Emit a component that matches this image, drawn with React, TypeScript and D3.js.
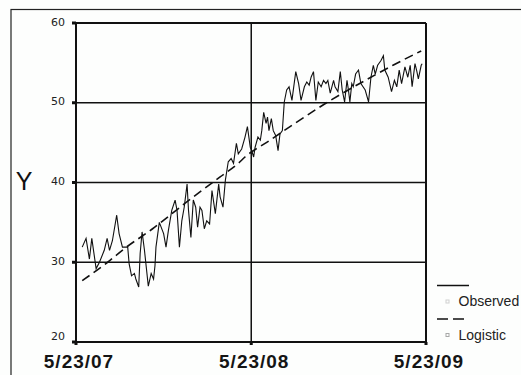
import * as d3 from "d3";

const width = 521;
const height = 375;
const margin = { top: 23, right: 95, bottom: 33, left: 76 };

// days after 5/23/07 for each observed point
const obsDays = [
  13, 21, 28, 33, 42, 49, 59, 65, 70, 76, 85, 90, 97, 108, 111, 116, 122, 125,
  131, 134, 138, 143, 151, 157, 162, 165, 167, 174, 183, 188, 193, 200, 207,
  211, 216, 221, 226, 232, 235, 240, 245, 250, 254, 259, 263, 268, 273, 279,
  284, 291, 298, 301, 307, 312, 318, 324, 329, 335, 339, 346, 353, 358, 364,
  367, 371, 374, 380, 385, 388, 392, 397, 400, 403, 408, 412, 417, 422, 426,
  431, 435, 440, 445, 451, 459, 465, 470, 477, 482, 487, 491, 496, 501, 506,
  512, 517, 522, 526, 531, 538, 541, 547, 552, 556, 561, 566, 569, 572, 576,
  579, 584, 590, 595, 604, 611, 616, 621, 625, 630, 637, 642, 645, 652, 659,
  665, 670, 675, 680, 687, 693, 698, 702, 708, 712, 715, 721, 723,
];

const obsValues = [
  31.9, 33.0, 30.4, 33.0, 29.2, 30.0, 31.5, 33.0, 31.5, 32.7, 35.9, 33.6, 31.9,
  31.9, 29.8, 28.3, 28.6, 27.9, 26.9, 31.1, 33.8, 31.5, 27.0, 28.6, 27.9, 29.6,
  31.9, 35.0, 33.6, 31.9, 34.0, 36.5, 37.8, 36.5, 31.9, 35.2, 36.9, 39.8, 36.5,
  33.1, 37.8, 36.9, 34.4, 36.9, 36.5, 34.2, 35.2, 34.8, 39.0, 36.1, 39.8, 38.2,
  36.9, 40.3, 42.6, 43.0, 42.4, 44.9, 43.6, 44.2, 45.7, 47.0, 44.4, 44.0, 43.2,
  44.4, 45.7, 45.3, 46.5, 48.8, 47.4, 48.2, 46.5, 48.0, 46.5, 45.9, 44.0, 46.1,
  46.5, 50.1, 51.6, 52.0, 50.3, 53.9, 52.4, 50.3, 52.0, 52.6, 52.2, 53.2, 53.9,
  50.3, 52.6, 52.0, 52.8, 52.4, 52.8, 51.2, 52.8, 52.0, 51.4, 53.9, 51.6, 50.1,
  52.8, 51.6, 50.1, 52.4, 52.0, 53.6, 54.1, 52.4, 51.6, 50.1, 53.2, 54.7, 53.6,
  54.7, 55.3, 55.9, 54.1, 53.2, 51.4, 52.8, 52.0, 54.1, 52.4, 54.5, 53.2, 54.7,
  52.0, 54.9, 53.9, 53.0, 54.7, 54.9,
];

// logistic fit read at a few places along the dashed curve
const fitDays = [13, 66, 101, 160, 230, 301, 339, 353, 400, 447, 526, 604, 662, 721];
const fitValues = [27.7, 30.0, 31.7, 34.2, 37.5, 40.7, 42.4, 43.2, 45.1, 47.0, 50.1, 52.8, 54.7, 56.5];

const yTicks = [20, 30, 40, 50, 60];
const xTickLabels = ["5/23/07", "5/23/08", "5/23/09"];
const startDate = new Date(2007, 4, 23);
const endDate = new Date(2009, 4, 23);
const xTickDates = [startDate, new Date(2008, 4, 23), endDate];

const legendItems = [
  { name: "Observed", dash: "none", square: "#d0d0d0" },
  { name: "Logistic", dash: "11,5", square: "#a8a8a8" },
];

type Pt = { date: Date; value: number };

export default function App() {
  const x = d3
    .scaleTime()
    .domain([startDate, endDate])
    .range([margin.left, width - margin.right]);

  const y = d3
    .scaleLinear()
    .domain([20, 60])
    .range([height - margin.bottom, margin.top]);

  const observed: Pt[] = obsDays.map((d, i) => ({
    date: d3.timeDay.offset(startDate, d),
    value: obsValues[i],
  }));
  const fitted: Pt[] = fitDays.map((d, i) => ({
    date: d3.timeDay.offset(startDate, d),
    value: fitValues[i],
  }));

  const line = d3
    .line<Pt>()
    .x((d) => x(d.date))
    .y((d) => y(d.value));

  const fitLine = d3
    .line<Pt>()
    .x((d) => x(d.date))
    .y((d) => y(d.value))
    .curve(d3.curveMonotoneX);

  const x0 = margin.left;
  const x1 = width - margin.right;
  const yTop = y(60);
  const yBot = y(20);

  return (
    <svg
      width={width}
      height={height}
      style={{ position: "absolute", left: 0, top: 0, background: "#fdfefd" }}
      fontFamily="'Liberation Sans', Arial, sans-serif"
    >
      {/* outer frame */}
      <rect x={11} y={9.5} width={width} height={height} fill="none" stroke="#222" strokeWidth={1.2} />

      {/* horizontal grid */}
      {yTicks.slice(1).map((t) => (
        <line key={t} x1={x0} x2={x1} y1={y(t)} y2={y(t)} stroke="#111" strokeWidth={t === 60 ? 2 : 1.5} />
      ))}

      {/* vertical grid */}
      {xTickDates.slice(1).map((d, i) => (
        <line key={i} x1={x(d)} x2={x(d)} y1={yTop} y2={yBot + 2} stroke="#111" strokeWidth={i === 1 ? 2 : 1.5} />
      ))}

      {/* axes */}
      <line x1={x0} x2={x0} y1={yTop} y2={yBot} stroke="#111" strokeWidth={2} />
      <line x1={x0} x2={x1} y1={yBot} y2={yBot} stroke="#111" strokeWidth={2} />

      {/* y ticks */}
      {yTicks.map((t, i) => (
        <g key={t}>
          <rect x={x0 - 4} y={y(t) - 1.5} width={4} height={3} fill="#111" />
          <text
            x={65}
            y={y(t) - (i === 0 ? 6 : 1)}
            textAnchor="end"
            dominantBaseline="central"
            fontFamily="'DejaVu Sans', sans-serif"
            fontSize={11}
            fill="#222"
          >
            {t}
          </text>
        </g>
      ))}

      {/* x ticks */}
      {xTickDates.map((d, i) => (
        <g key={i}>
          <rect x={x(d) - 1.5} y={yBot} width={3} height={3} fill="#111" />
          <text
            x={x(d) + 3}
            y={368}
            textAnchor="middle"
            fontSize={19}
            fontWeight="bold"
            letterSpacing={1}
            fill="#151515"
          >
            {xTickLabels[i]}
          </text>
        </g>
      ))}

      <text x={24} y={190} textAnchor="middle" fontSize={25} fill="#111">
        Y
      </text>

      {/* series */}
      <path d={line(observed) ?? ""} fill="none" stroke="#111" strokeWidth={1.1} />
      <path d={fitLine(fitted) ?? ""} fill="none" stroke="#111" strokeWidth={1.6} strokeDasharray="9,5" />

      {/* legend */}
      {legendItems.map((item, i) => (
        <g key={item.name} transform={`translate(437, ${285.5 + i * 33.5})`}>
          <line x1={0} x2={item.dash === "none" ? 32 : 28} y1={0} y2={0} stroke="#111" strokeWidth={1.5} strokeDasharray={item.dash} />
          <rect x={9} y={14.5} width={3} height={3} fill="none" stroke={item.square} strokeWidth={1} />
          <text x={21.5} y={20.5} fontSize={14} fill="#222">
            {item.name}
          </text>
        </g>
      ))}
    </svg>
  );
}
